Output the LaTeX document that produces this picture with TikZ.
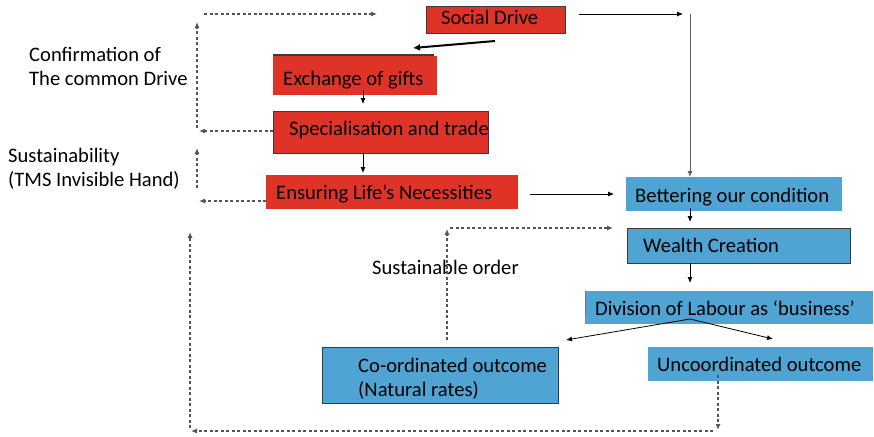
\documentclass[tikz,border=0pt]{standalone}
\usepackage{fontspec}
\setmainfont{Carlito}
\usetikzlibrary{arrows.meta}
\definecolor{boxred}{HTML}{E03327}
\definecolor{boxblue}{HTML}{4FA4D3}
\definecolor{edge}{HTML}{3A3A3A}
\definecolor{dashgray}{HTML}{555555}
\begin{document}
\begin{tikzpicture}[x=1pt,y=-1pt,
  txt/.style={font=\fontsize{20.6}{24}\selectfont, anchor=base west, inner sep=0pt, text=black},
  redbox/.style={fill=boxred, draw=none},
  redframe/.style={fill=boxred, draw=edge, line width=1pt},
  bluebox/.style={fill=boxblue, draw=none},
  blueframe/.style={fill=boxblue, draw=edge, line width=1pt},
  link/.style={draw=black, line width=0.8pt, -{Latex[length=6pt,width=5pt]}},
  boldlink/.style={draw=black, line width=2pt, -{Latex[length=7pt,width=7pt]}},
  dlink/.style={draw=dashgray, line width=1.1pt, dash pattern=on 3pt off 2.5pt, -{Latex[length=6pt,width=5pt]}},
]
\useasboundingbox (0,0) rectangle (874,436);

% ---- boxes ----
\path[redframe] (426,7) rectangle (565,34);
\node[inner sep=0, minimum size=0] (SD) at (495.5,20.5) {};
\path[draw=edge, line width=1pt] (273,55) rectangle (433,90);
\path[redbox] (273,56) rectangle (437,95);
\node[inner sep=0] (EX) at (355,76) {};
\path[redframe] (273,111) rectangle (488,153);
\node[inner sep=0] (ST) at (380,132) {};
\path[redbox] (266,175) rectangle (518,209);
\node[inner sep=0] (EN) at (392,192) {};
\path[bluebox] (626,177) rectangle (842,211);
\node[inner sep=0] (BE) at (734,194) {};
\path[blueframe] (627,228) rectangle (850,263);
\node[inner sep=0] (WC) at (738,245) {};
\path[bluebox] (585,291) rectangle (873,324);
\draw[edge!70, line width=1pt] (585.5,291) -- (585.5,316);
\node[inner sep=0] (DL) at (729,307) {};
\path[blueframe] (322,347) rectangle (558,403);
\node[inner sep=0] (CO) at (440,375) {};
\path[bluebox] (648,347) rectangle (873,381);
\node[inner sep=0] (UN) at (760,364) {};

% ---- texts ----
\node[txt] (tSD) at (441,25) {Social Drive};
\node[txt] (tEX) at (283,85) {Exchange of gifts};
\node[txt] (tST) at (289,135) {Specialisation and trade};
\node[txt] (tEN) at (276,199) {Ensuring Life’s Necessities};
\node[txt] (tBE) at (635,202) {Bettering our condition};
\node[txt] (tWC) at (643,252) {Wealth Creation};
\node[txt] (tDL) at (595,315) {Division of Labour as ‘business’};
\node[txt] (tUN) at (657,371) {Uncoordinated outcome};
\node[txt] (tCO1) at (358,372) {Co-ordinated outcome};
\node[txt] (tCO2) at (358,396) {(Natural rates)};
\node[txt] (tSO) at (372,274) {Sustainable order};
\node[txt] (tCF1) at (29,62) {Confirmation of};
\node[txt] (tCF2) at (29,85) {The common Drive};
\node[txt] (tSU1) at (8,162) {Sustainability};
\node[txt] (tSU2) at (8,186) {(TMS Invisible Hand)};

% ---- connector end points ----
\coordinate (sdA) at (495,41);   \coordinate (exA) at (413,48);
\coordinate (exB) at (363,90);   \coordinate (stA) at (363,104);
\coordinate (stB) at (363,153);  \coordinate (enA) at (363,173);
\coordinate (enB) at (530,194);  \coordinate (beA) at (614,194);
\coordinate (sdB) at (579,14);   \coordinate (rtA) at (683,14);
\coordinate (rtB) at (690,14);   \coordinate (beB) at (690,177);
\coordinate (beC) at (690,208);  \coordinate (wcA) at (690,222);
\coordinate (wcB) at (690,263);  \coordinate (dlA) at (690,283);
\coordinate (dlB) at (690,319);
\coordinate (coA) at (566,340);  \coordinate (unA) at (773,339);
\coordinate (coB) at (447,340);  \coordinate (soA) at (447,229);
\coordinate (soB) at (450,228);  \coordinate (wcC) at (613,228);
\coordinate (unB) at (718,375);  \coordinate (btA) at (718,430);
\coordinate (btB) at (713,431);  \coordinate (btC) at (191,431);
\coordinate (lfA) at (190,428);  \coordinate (lfB) at (190,232);
\coordinate (stC) at (273,131);  \coordinate (cfA) at (199,131);
\coordinate (cfB) at (197,128);  \coordinate (cfC) at (197,22);
\coordinate (tpA) at (204,14);   \coordinate (tpB) at (377,14);
\coordinate (enC) at (266,201);  \coordinate (suA) at (199,201);
\coordinate (suB) at (197,188);  \coordinate (suC) at (197,148);

% ---- solid connectors ----
\draw[boldlink] (sdA) -- (exA);
\draw[link] (exB) -- (stA);
\draw[link] (stB) -- (enA);
\draw[link] (enB) -- (beA);
\draw[link] (sdB) -- (rtA);
\draw[link, draw=edge!80] (rtB) -- (beB);
\draw[link] (beC) -- (wcA);
\draw[link] (wcB) -- (dlA);
\draw[link] (dlB) -- (coA);
\draw[link] (dlB) -- (unA);

% ---- dashed feedback connectors ----
\draw[dlink] (coB) -- (soA);
\draw[dlink] (soB) -- (wcC);
\draw[dlink] (unB) -- (btA);
\draw[dlink] (btB) -- (btC);
\draw[dlink] (lfA) -- (lfB);
\draw[dlink] (stC) -- (cfA);
\draw[dlink] (cfB) -- (cfC);
\draw[dlink] (tpA) -- (tpB);
\draw[dlink] (enC) -- (suA);
\draw[dlink] (suB) -- (suC);
\end{tikzpicture}
\end{document}
